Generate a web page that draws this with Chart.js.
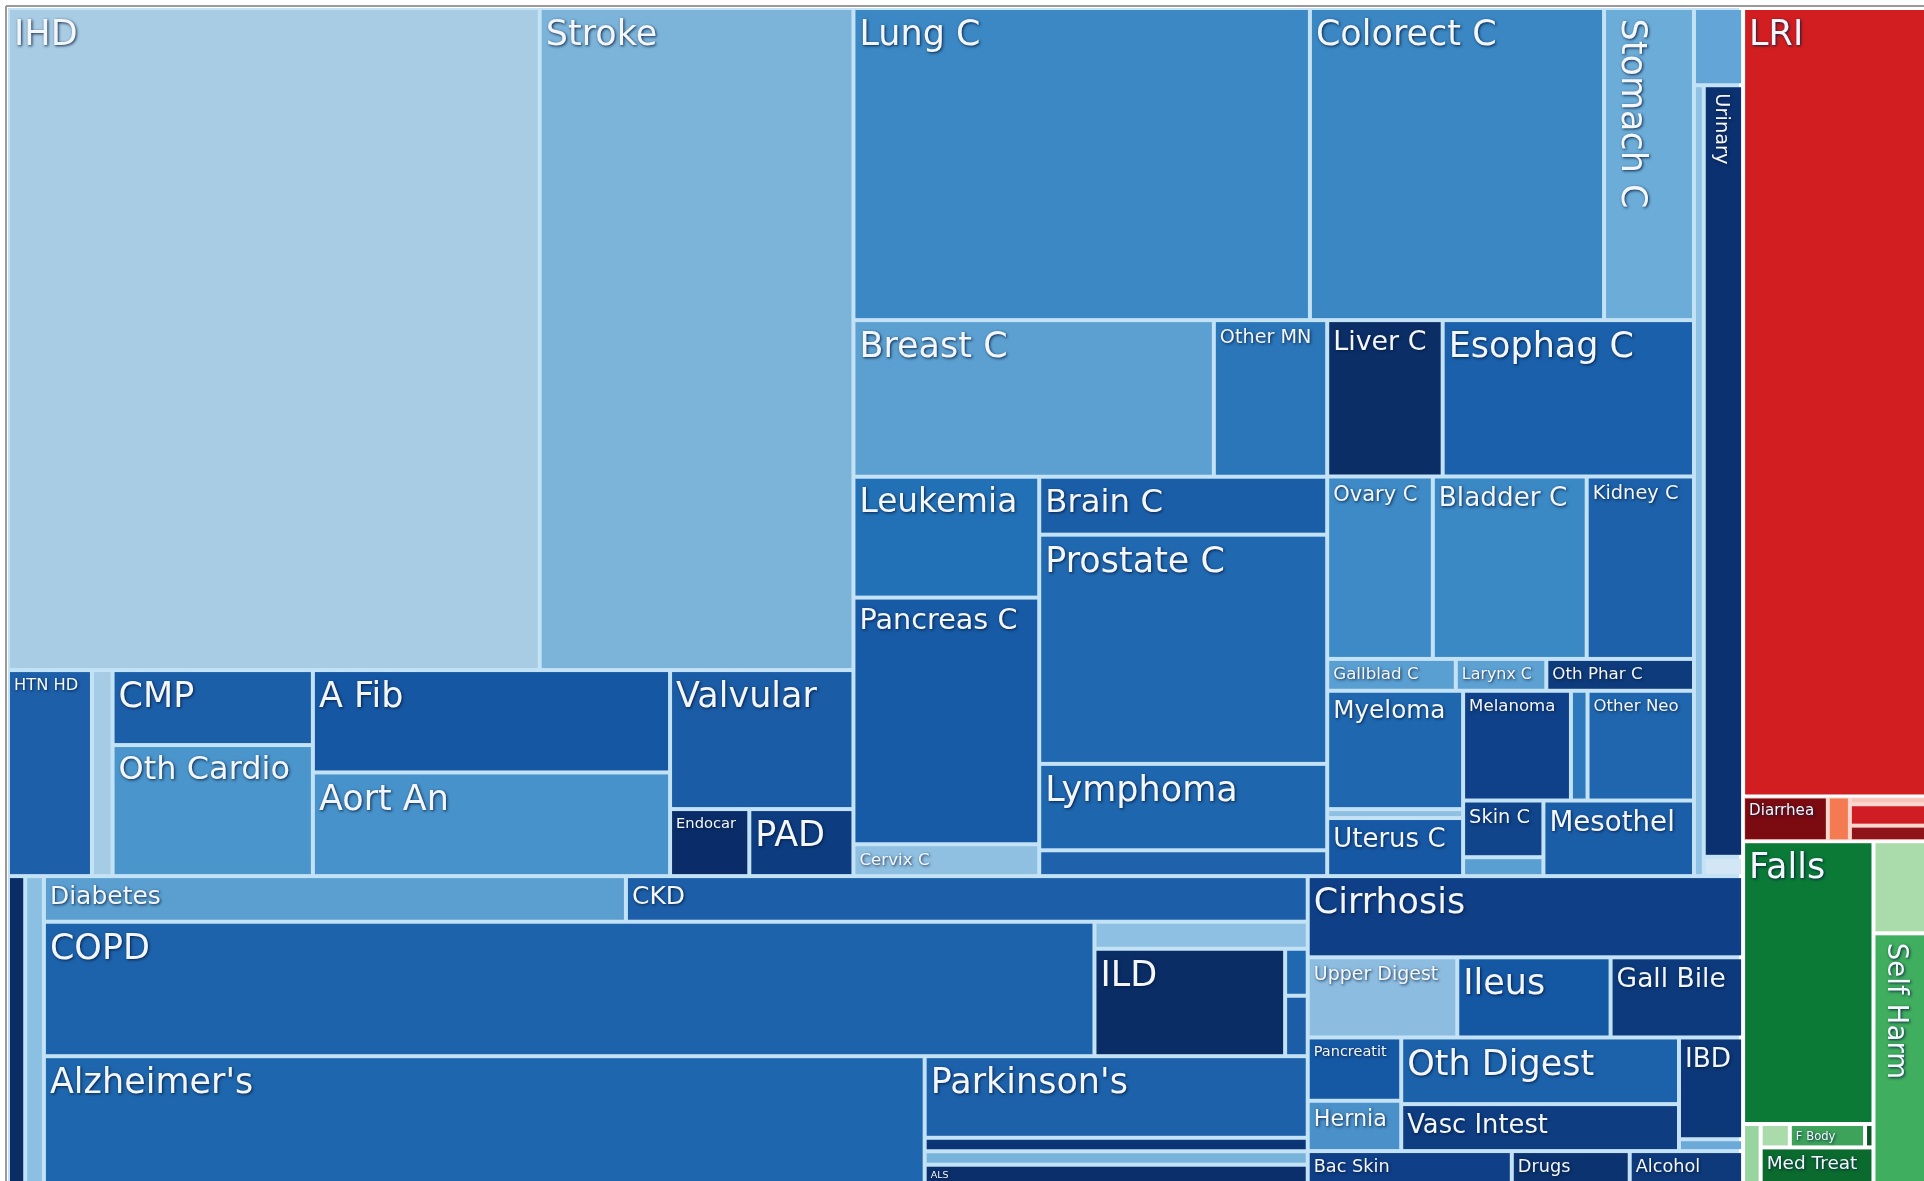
<!DOCTYPE html>
<html>
<head>
<meta charset="utf-8">
<title>Causes of death treemap</title>
<script src="https://cdn.jsdelivr.net/npm/chart.js@4.4.1/dist/chart.umd.min.js"></script>
<style>
  html, body { margin: 0; padding: 0; background: #fff; overflow: hidden; }
  canvas { display: block; }
</style>
</head>
<body>
<canvas id="treemap" width="1924" height="1181"></canvas>
<script>
// cell sizes (relative area of each cause)

// cardiovascular
const cardioLabels = ['IHD', 'Stroke', 'HTN HD', 'Rheum HD', 'CMP', 'Oth Cardio', 'A Fib', 'Aort An', 'Valvular', 'Endocar', 'PAD'];
const cardioValues = [2320, 1369, 114, 28, 99, 173, 241, 244, 168, 35, 46];

// neoplasms
const neoLabels = ['Lung C', 'Colorect C', 'Stomach C', 'Breast C', 'Other MN', 'Liver C', 'Esophag C',
  'Leukemia', 'Pancreas C', 'Cervix C', 'Brain C', 'Prostate C', 'Lymphoma', 'Thyroid C',
  'Ovary C', 'Bladder C', 'Kidney C', 'Gallblad C', 'Larynx C', 'Oth Phar C',
  'Myeloma', 'Testic C', 'Uterus C', 'Melanoma', 'Nasoph C', 'Other Neo', 'Skin C', 'Mouth C', 'Mesothel'];
const neoValues = [939, 605, 185, 372, 117, 119, 259,
  148, 302, 39, 110, 435, 164, 49,
  127, 185, 129, 27, 19, 31,
  106, 8, 52, 78, 12, 77, 30, 10, 75];

// other non-communicable (column beside the neoplasms)
const otherLabels = ['Endocrine', 'Gyne Dis', 'Urinary', 'Oral Dis'];
const otherValues = [25, 51, 200, 5];

// chronic respiratory, diabetes/kidney, neurological
const respLabels = ['Hemog', 'Oth NCD', 'Diabetes', 'CKD', 'COPD', 'Asthma', 'ILD', 'Pneumocon', 'Oth Resp',
  "Alzheimer's", "Parkinson's", 'Epilepsy', 'MS', 'ALS'];
const respValues = [35, 38, 175, 205, 931, 38, 135, 7, 9, 745, 206, 34, 34, 50];

// digestive and others
const digestLabels = ['Cirrhosis', 'Upper Digest', 'Ileus', 'Gall Bile', 'Pancreatit', 'Hernia', 'Oth Digest',
  'Vasc Intest', 'IBD', 'Appendic', 'Bac Skin', 'Drugs', 'Alcohol'];
const digestValues = [233, 79, 81, 70, 39, 31, 122, 86, 43, 5, 45, 26, 25];

// communicable
const commLabels = ['LRI', 'Diarrhea', 'Meningitis', 'HIV', 'URI', 'Otitis'];
const commValues = [960, 25, 6.5, 4, 11, 8];

// injuries
const injLabels = ['Falls', 'Drowning', 'Poison', 'F Body', 'Fire', 'Med Treat', 'Road Inj', 'Self Harm'];
const injValues = [243, 7, 4.5, 11.6, 1.3, 27.6, 33, 90];

// colours, same order as the labels
const cardioColors = ['#a8cce4', '#7cb4d9', '#1d60a9', '#a6cbe4', '#1c5fa9', '#4a95cb', '#1657a3', '#4792ca', '#1b5ca6', '#0a2d69', '#0d3c80'];
const neoColors = ['#3b88c4', '#3a87c3', '#6badd8', '#5ba0d1', '#2a76b9', '#0b2e66', '#1a60ab',
  '#2271b6', '#175aa5', '#8fc0e1', '#1b5ea8', '#2068b0', '#1e66ae', '#1d62aa',
  '#3d8ac6', '#3a88c4', '#1c61aa', '#5a9fd1', '#5da1d2', '#0e3b7b',
  '#1f68b0', '#8fc0e1', '#1658a4', '#0f418a', '#2e79bb', '#1f66ae', '#10448b', '#5a9fd1', '#1b5ea8'];
const otherColors = ['#62a5d6', '#8fc1e4', '#0c3170', '#d3e6f5'];
const respColors = ['#0b2d66', '#8cc0e3', '#5a9fd0', '#1c5fa8', '#1d63ab', '#8ec0e3', '#0a2d66', '#2069b1', '#1b5ea7',
  '#1e67ae', '#1c61aa', '#0c3575', '#78b3dc', '#0a2f6b'];
const digestColors = ['#0f3f87', '#8cbde1', '#1457a3', '#0d3a7d', '#1558a4', '#4a91c9', '#1c62ab',
  '#0e3d82', '#0c3778', '#6aa9d8', '#0f3f87', '#0b336f', '#0e3a7b'];
const commColors = ['#d21e20', '#7b0b10', '#f47a52', '#f9c2b8', '#d01d24', '#8e1419'];
const injColors = ['#0b7a36', '#98d4a0', '#a9dcaa', '#3da35b', '#0a5525', '#0b6b2e', '#a9dcaa', '#3fae5e'];

const noLabel = ['Rheum HD', 'Thyroid C', 'Testic C', 'Nasoph C', 'Mouth C', 'Endocrine', 'Gyne Dis', 'Oral Dis',
  'Hemog', 'Oth NCD', 'Asthma', 'Pneumocon', 'Oth Resp', 'Epilepsy', 'MS', 'Appendic',
  'Meningitis', 'HIV', 'URI', 'Otitis', 'Drowning', 'Poison', 'Fire', 'Road Inj'];
const verticalLabels = ['Stomach C', 'Urinary', 'Self Harm'];

const valueOf = {}, colorOf = {};
[[cardioLabels, cardioValues, cardioColors], [neoLabels, neoValues, neoColors], [otherLabels, otherValues, otherColors],
 [respLabels, respValues, respColors], [digestLabels, digestValues, digestColors],
 [commLabels, commValues, commColors], [injLabels, injValues, injColors]].forEach(([l, v, c]) => {
  l.forEach((name, i) => { valueOf[name] = v[i]; colorOf[name] = c[i]; });
});

// how the cells nest: h = side by side, v = stacked
const H = (...kids) => ({ dir: 'h', kids });
const V = (...kids) => ({ dir: 'v', kids });

const cardio = V(H('IHD', 'Stroke'),
  H('HTN HD', 'Rheum HD', V('CMP', 'Oth Cardio'), V('A Fib', 'Aort An'), V('Valvular', H('Endocar', 'PAD'))));
const neo = V(H('Lung C', 'Colorect C', 'Stomach C'),
  H(V(H('Breast C', 'Other MN'),
      H(V('Leukemia', 'Pancreas C', 'Cervix C'), V('Brain C', 'Prostate C', 'Lymphoma', 'Thyroid C'))),
    V(H('Liver C', 'Esophag C'), H('Ovary C', 'Bladder C', 'Kidney C'), H('Gallblad C', 'Larynx C', 'Oth Phar C'),
      H(V('Myeloma', 'Testic C', 'Uterus C'),
        V(H('Melanoma', 'Nasoph C', 'Other Neo'), H(V('Skin C', 'Mouth C'), 'Mesothel'))))));
const other = V('Endocrine', H('Gyne Dis', V('Urinary', 'Oral Dis')));
const resp = H('Hemog', 'Oth NCD',
  V(H('Diabetes', 'CKD'),
    H('COPD', V('Asthma', H('ILD', V('Pneumocon', 'Oth Resp')))),
    H("Alzheimer's", V("Parkinson's", 'Epilepsy', 'MS', 'ALS'))));
const digest = V('Cirrhosis', H('Upper Digest', 'Ileus', 'Gall Bile'),
  H(V('Pancreatit', 'Hernia'), V('Oth Digest', 'Vasc Intest'), V('IBD', 'Appendic')),
  H('Bac Skin', 'Drugs', 'Alcohol'));
const commRow = H('Diarrhea', 'Meningitis', V('HIV', 'URI', 'Otitis'));
const comm = V('LRI', commRow);
const inj = H(V('Falls', H('Drowning', V(H('Poison', 'F Body', 'Fire'), 'Med Treat'))), V('Road Inj', 'Self Harm'));
const rightPart = V(comm, inj);
const root = H(V(H(cardio, neo, other), H(resp, digest)), rightPart);

function total(node) {
  return typeof node === 'string' ? valueOf[node] : node.kids.reduce((s, k) => s + total(k), 0);
}

function place(node, x0, y0, x1, y1, out) {
  if (typeof node === 'string') { out.push({ name: node, x0, y0, x1, y1 }); return; }
  node.rect = { x0, y0, x1, y1 };
  const sum = total(node);
  let pos = node.dir === 'h' ? x0 : y0;
  node.kids.forEach(k => {
    const len = (node.dir === 'h' ? x1 - x0 : y1 - y0) * total(k) / sum;
    if (node.dir === 'h') place(k, pos, y0, pos + len, y1, out);
    else place(k, x0, pos, x1, pos + len, out);
    pos += len;
  });
}

const cells = [];
place(root, 0, 0, 1, 1, cells);

const points = cells.map(c => ({ x: (c.x0 + c.x1) / 2, y: (c.y0 + c.y1) / 2, cell: c }));

const FONT = '"DejaVu Sans", Verdana, sans-serif';

const cellPlugin = {
  id: 'cells',
  beforeDraw(chart) {
    const { ctx, chartArea } = chart;
    ctx.save();
    ctx.fillStyle = '#ffffff';
    ctx.fillRect(0, 0, chart.width, chart.height);
    ctx.fillStyle = '#9a9a9a';
    ctx.fillRect(chartArea.left - 2, chartArea.top - 3, chart.width, 2);
    ctx.fillRect(chartArea.left - 3, chartArea.top - 2, 2, chart.height);
    ctx.restore();
  },
  beforeDatasetsDraw(chart) {
    const { ctx, chartArea, scales: { x, y } } = chart;
    const box = r => {
      const l = x.getPixelForValue(r.x0), rr = x.getPixelForValue(r.x1);
      const t = y.getPixelForValue(r.y0), b = y.getPixelForValue(r.y1);
      return { l, t, w: rr - l, h: b - t };
    };
    ctx.save();
    ctx.fillStyle = '#c3e2f6';
    ctx.fillRect(chartArea.left, chartArea.top, chartArea.width, chartArea.height);
    let b = box(rightPart.rect);
    ctx.fillStyle = '#ffffff';
    ctx.fillRect(b.l - 4, b.t, b.w + 14, b.h + 10);
    b = box(commRow.rect);
    ctx.fillStyle = '#fbd6cf';
    ctx.fillRect(b.l + 1, b.t + 1, b.w, b.h - 2);

    const pad = 2;
    chart.data.datasets[0].data.forEach(p => {
      const c = box(p.cell);
      ctx.fillStyle = colorOf[p.cell.name];
      ctx.fillRect(c.l + pad, c.t + pad, c.w - 2 * pad, c.h - 2 * pad);
    });

    ctx.textBaseline = 'top';
    ctx.textAlign = 'left';
    chart.data.datasets[0].data.forEach(p => {
      const name = p.cell.name;
      if (noLabel.includes(name)) return;
      const c = box(p.cell);
      const w = c.w - 2 * pad, h = c.h - 2 * pad;
      const vertical = verticalLabels.includes(name);
      ctx.font = '100px ' + FONT;
      const w100 = ctx.measureText(name).width;
      const along = vertical ? h : w;
      const across = vertical ? w : h;
      let size = Math.min(35, (along - 10) * 0.92 * 100 / w100, across * (vertical ? 0.55 : 0.6));
      if (size < 8) return;
      ctx.font = size.toFixed(1) + 'px ' + FONT;
      ctx.shadowColor = 'rgba(5, 25, 60, 0.9)';
      ctx.shadowBlur = 3;
      ctx.shadowOffsetX = 1;
      ctx.shadowOffsetY = 1;
      ctx.fillStyle = '#f3f7fb';
      const inset = 3 + size * 0.16;
      if (vertical) {
        ctx.save();
        ctx.translate(c.l + pad + 3 + size * 1.12, c.t + pad + inset);
        ctx.rotate(Math.PI / 2);
        ctx.fillText(name, 0, 0);
        ctx.restore();
      } else {
        ctx.fillText(name, c.l + pad + 4, c.t + pad + inset);
      }
    });
    ctx.restore();
  }
};

new Chart(document.getElementById('treemap'), {
  type: 'scatter',
  data: {
    datasets: [{
      label: 'Deaths',
      data: points,
      pointRadius: 0,
      pointHoverRadius: 0
    }]
  },
  options: {
    responsive: false,
    devicePixelRatio: 1,
    animation: false,
    layout: { padding: { left: 8, top: 8, right: 0, bottom: 0 } },
    scales: {
      x: { type: 'linear', min: 0, max: 0.998, display: false },
      y: { type: 'linear', min: 0, max: 0.997, reverse: true, display: false }
    },
    plugins: {
      legend: { display: false },
      tooltip: {
        callbacks: { label: item => item.raw.cell.name + ': ' + valueOf[item.raw.cell.name] }
      }
    }
  },
  plugins: [cellPlugin]
});
</script>
</body>
</html>
